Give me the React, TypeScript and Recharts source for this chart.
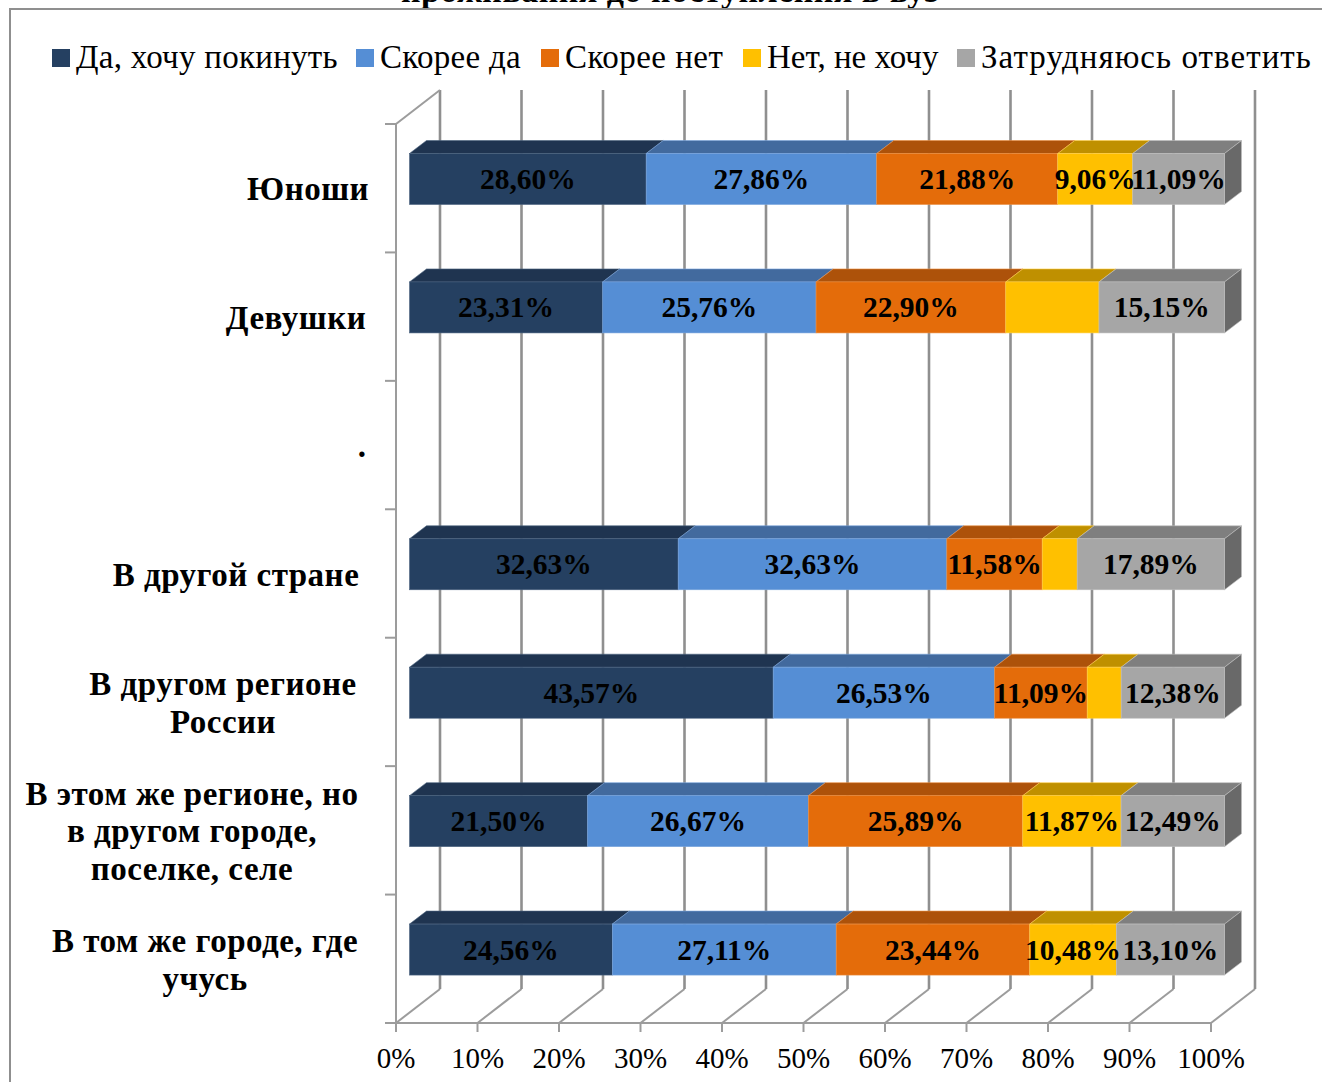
import React from "react";
import { BarChart, Bar, XAxis, YAxis, CartesianGrid, Legend, LabelList } from "recharts";

const categories = ["Юноши", "Девушки", ".", "В другой стране", "В другом регионе России", "В этом же регионе, но в другом городе, поселке, селе", "В том же городе, где учусь"];
const categoryLines = [["Юноши"], ["Девушки"], ["."], ["В другой стране"], ["В другом регионе", "России"], ["В этом же регионе, но", "в другом городе,", "поселке, селе"], ["В том же городе, где", "учусь"]];
const seriesNames = ["Да, хочу покинуть", "Скорее да", "Скорее нет", "Нет, не хочу", "Затрудняюсь ответить"];
const yesWant = [28.6, 23.31, 0, 32.63, 43.57, 21.5, 24.56];
const ratherYes = [27.86, 25.76, 0, 32.63, 26.53, 26.67, 27.11];
const ratherNo = [21.88, 22.9, 0, 11.58, 11.09, 25.89, 23.44];
const noWant = [9.06, 11.25, 0, 4.25, 4.07, 11.87, 10.48];
const hardToSay = [11.09, 15.15, 0, 17.89, 12.38, 12.49, 13.1];
const unlabelledNoWant = [false, true, true, true, true, false, false];
const tickValues = [0, 0.1, 0.2, 0.3, 0.4, 0.5, 0.6, 0.7, 0.8, 0.9, 1];
const titleText = "проживания до поступления в вуз";

const seriesValues = [yesWant, ratherYes, ratherNo, noWant, hardToSay];
const keys = ["s0", "s1", "s2", "s3", "s4"];
const table = categories.map((name, i) => {
  const row: any = { name };
  keys.forEach((k, s) => (row[k] = seriesValues[s][i]));
  return row;
});

const W = 1322, H = 1082;
const LEFT = 396, TOP = 124, RIGHT = 1211, BOTTOM = 1023;
const STEP = (BOTTOM - TOP) / categories.length;
const FONT = "'Liberation Serif', serif";
const AXIS = "#8f8f8f";
const FLOOR = "#9c9c9c";
const WALL_DX = 44, WALL_DY = 34;
const BAR_DX = 13.5, BAR_DY = 9.5, DEPTH_X = 17, DEPTH_Y = 13;
const FRONT = ["#254061", "#558ed5", "#e46c0a", "#ffc000", "#a6a6a6"];
const TOPS = ["#1f3450", "#426a9e", "#ad520a", "#bf9000", "#7f7f7f"];
const SIDE = "#696969";
const EDGE = ["#4d6480", "#7aa5dc", "#e98f45", "#ffd04d", "#bdbdbd"];
const LABEL_CENTER = [308, 296, 362, 236, 223, 192, 205];
const LEGEND_X = [52, 356, 541, 743, 957];
const LEGEND_SPACING = [0.26, 0.29, 0.47, 0, 1.05];

const gridLine = (p: any) => {
  const { x1, y1, y2, index } = p;
  const backX = x1 + WALL_DX;
  const isFirst = Math.abs(x1 - LEFT) < 1;
  return (
    <g key={`g-${index}-${x1}`} fill="none">
      <line x1={x1} y1={y2} x2={backX} y2={y2 - WALL_DY} stroke={FLOOR} strokeWidth={2} />
      <line x1={backX} y1={y2 - WALL_DY} x2={backX} y2={y1 - WALL_DY} stroke={AXIS} strokeWidth={2.6} />
      {isFirst && <line x1={x1} y1={y1} x2={backX} y2={y1 - WALL_DY} stroke={FLOOR} strokeWidth={2} />}
    </g>
  );
};

const makeShape = (s: number) => (p: any) => {
  const { x, y, width, height } = p;
  if (!width || !(width > 0)) return <g />;
  const fx = x + BAR_DX, fy = y - BAR_DY;
  const top = `${fx},${fy} ${fx + DEPTH_X},${fy - DEPTH_Y} ${fx + width + DEPTH_X},${fy - DEPTH_Y} ${fx + width},${fy}`;
  const side = `${fx + width},${fy} ${fx + width + DEPTH_X},${fy - DEPTH_Y} ${fx + width + DEPTH_X},${fy + height - DEPTH_Y} ${fx + width},${fy + height}`;
  return (
    <g>
      <polygon points={top} fill={TOPS[s]} stroke={EDGE[s]} strokeWidth={0.6} />
      {s === FRONT.length - 1 && <polygon points={side} fill={SIDE} stroke={EDGE[s]} strokeWidth={0.6} />}
      <rect x={fx} y={fy} width={width} height={height} fill={FRONT[s]} stroke={EDGE[s]} strokeWidth={0.6} />
    </g>
  );
};

const makeLabel = (s: number) => (p: any) => {
  const { x, y, width, height, index } = p;
  const v = seriesValues[s][index];
  if (!v || (s === 3 && unlabelledNoWant[index])) return null;
  return (
    <text
      x={x + BAR_DX + width / 2}
      y={y - BAR_DY + height / 2 + 10}
      textAnchor="middle"
      fontFamily={FONT}
      fontWeight={700}
      fontSize={29.5}
      fill="#000"
    >
      {v.toFixed(2).replace(".", ",") + "%"}
    </text>
  );
};

const CategoryTick = (p: any) => {
  const { y, index } = p;
  const lines = categoryLines[index];
  const startY = y + 11 - ((lines.length - 1) * 37.5) / 2 + 1;
  return (
    <g>
      <line x1={LEFT - 11} x2={LEFT} y1={y - STEP / 2} y2={y - STEP / 2} stroke={FLOOR} strokeWidth={2} />
      {index === categories.length - 1 && (
        <line x1={LEFT - 11} x2={LEFT} y1={y + STEP / 2} y2={y + STEP / 2} stroke={FLOOR} strokeWidth={2} />
      )}
      {lines.map((l, i) => (
        <text key={i} x={LABEL_CENTER[index]} y={startY + i * 37.5} textAnchor="middle" fontFamily={FONT} fontWeight={700} fontSize={33} letterSpacing={0.5} fill="#000">
          {l}
        </text>
      ))}
    </g>
  );
};

const LegendContent = () => (
  <div style={{ position: "relative", height: 40, width: W, fontFamily: FONT, fontSize: 33, color: "#000" }}>
    {seriesNames.map((n, i) => (
      <div key={n} style={{ position: "absolute", left: LEGEND_X[i], top: -1, whiteSpace: "nowrap", lineHeight: "40px", letterSpacing: LEGEND_SPACING[i] }}>
        <span style={{ position: "absolute", left: 0, top: 12, width: 18, height: 18, background: FRONT[i] }} />
        <span style={{ marginLeft: 24 }}>{n}</span>
      </div>
    ))}
  </div>
);

export default function App() {
  return (
    <div style={{ position: "absolute", left: 0, top: 0, width: W, height: H, overflow: "hidden", background: "#fff" }}>
      <div style={{ position: "absolute", left: 0, top: 0, width: W, height: 8, overflow: "hidden" }}>
        <div style={{ position: "absolute", left: 0, top: -29, width: 1340, height: 40, textAlign: "center", fontFamily: FONT, fontWeight: 700, fontSize: 34, letterSpacing: 0.5, lineHeight: "40px", whiteSpace: "nowrap", color: "#000" }}>
          {titleText}
        </div>
      </div>
      <div style={{ position: "absolute", left: 9, top: 8, width: 1500, height: 1300, border: "2px solid #8f8f8f", boxSizing: "border-box" }} />
      <div style={{ position: "absolute", left: 0, top: 0 }}>
        <BarChart
          width={W}
          height={H}
          data={table}
          layout="vertical"
          stackOffset="expand"
          barSize={51}
          barCategoryGap={0}
          margin={{ top: TOP, right: W - RIGHT, bottom: 0, left: 0 }}
        >
          <CartesianGrid horizontal={false} vertical={gridLine} syncWithTicks />
          <XAxis
            type="number"
            domain={[0, 1]}
            ticks={tickValues}
            interval={0}
            height={H - BOTTOM}
            tickFormatter={(v: number) => Math.round(v * 100) + "%"}
            tick={{ fontFamily: FONT, fontSize: 29, fill: "#000" }}
            tickLine={{ stroke: FLOOR, strokeWidth: 2 }}
            tickSize={9}
            tickMargin={15}
            axisLine={{ stroke: FLOOR, strokeWidth: 2 }}
          />
          <YAxis
            type="category"
            dataKey="name"
            width={LEFT}
            interval={0}
            tick={CategoryTick}
            tickLine={false}
            axisLine={{ stroke: FLOOR, strokeWidth: 2 }}
          />
          <Legend layout="horizontal" verticalAlign="middle" align="center" itemSorter={null} content={LegendContent} wrapperStyle={{ left: 0, top: 38, width: W, bottom: "auto", margin: 0 }} />
          {keys.map((k, s) => (
            <Bar key={k} dataKey={k} name={seriesNames[s]} stackId="a" fill={FRONT[s]} shape={makeShape(s)} isAnimationActive={false}>
              <LabelList dataKey={k} content={makeLabel(s)} />
            </Bar>
          ))}
        </BarChart>
      </div>
    </div>
  );
}
